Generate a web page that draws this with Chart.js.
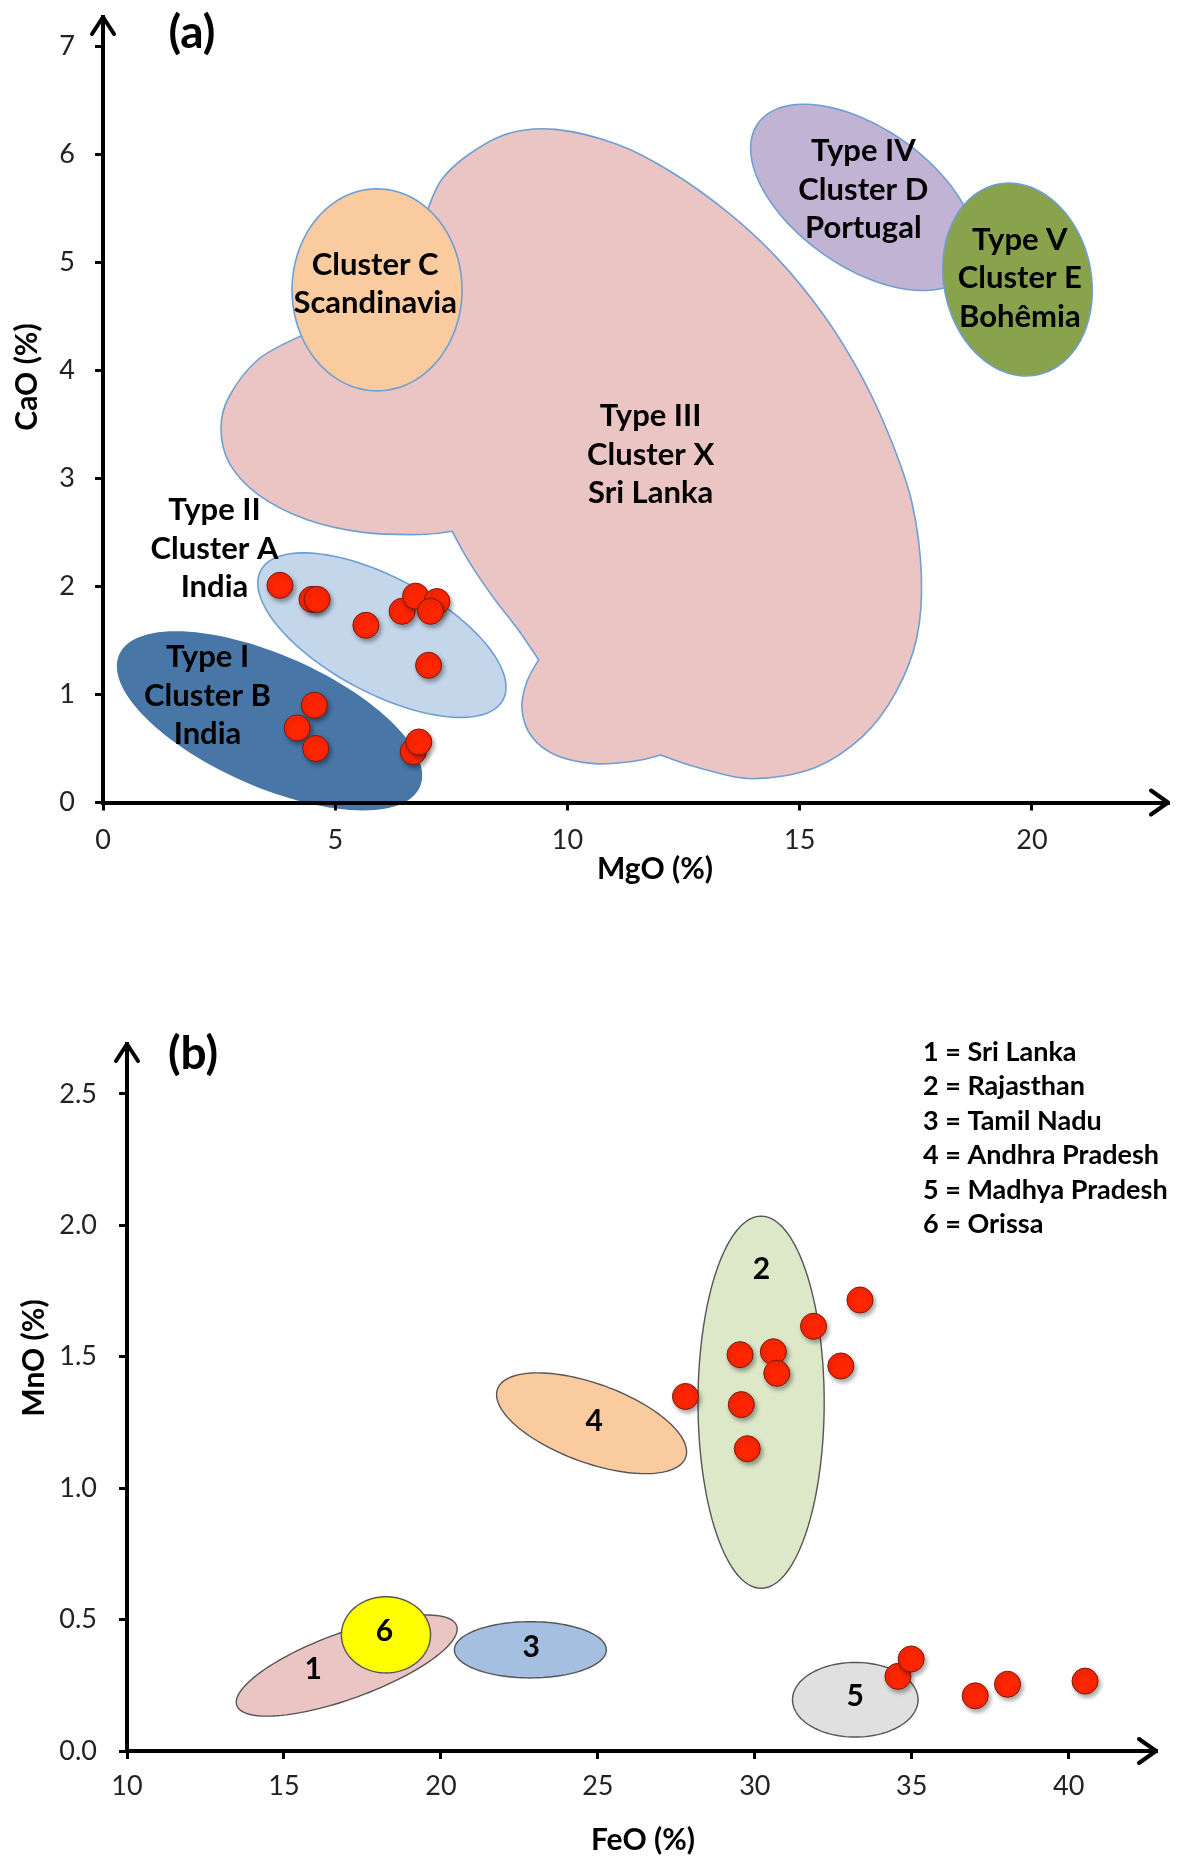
<!DOCTYPE html>
<html>
<head>
<meta charset="utf-8">
<script src="https://cdn.jsdelivr.net/npm/chart.js@4.4.0/dist/chart.umd.min.js"></script>
<style>
  html, body { margin: 0; padding: 0; background: #fff; }
  body { width: 1186px; height: 1865px; position: relative; overflow: hidden; }
  .panel { position: absolute; left: 0; width: 1186px; }
  #panelA { top: 0; height: 900px; }
  #panelB { top: 930px; height: 935px; }
</style>
</head>
<body>
<div class="panel" id="panelA"><canvas id="chartA"></canvas></div>
<div class="panel" id="panelB"><canvas id="chartB"></canvas></div>
<script>
// ---- (a) MgO vs CaO ----
const mgo = [3.81, 4.50, 4.61, 5.66, 6.44, 6.73, 7.19, 7.05, 7.01, 4.55, 4.18, 4.58, 6.68, 6.80];
const cao = [2.01, 1.88, 1.88, 1.64, 1.77, 1.91, 1.86, 1.77, 1.27, 0.90, 0.69, 0.50, 0.47, 0.56];
const mgoTicks = [0, 5, 10, 15, 20];
const caoTicks = [0, 1, 2, 3, 4, 5, 6, 7];

// ellipses: centre x, centre y, half-axis u (dx, dy), half-axis v (dx, dy) in data units
const clusterC = [5.90, 4.745, 1.83, 0, 0, 0.935];
const typeIV = [16.37, 5.60, 2.27, -0.684, -0.857, -0.525];
const typeV = [19.69, 4.84, -0.435, 0.881, 1.55, 0.142];
const typeI = [3.585, 0.756, 3.187, -0.638, -0.732, -0.518];
const typeII = [6.005, 1.549, 2.566, -0.627, -0.746, -0.432];

// Type III outline (Sri Lanka cloud)
const cloudX = [9.74, 8.71, 7.88, 7.30, 7.01, 6.80, 6.00, 4.60, 4.27, 3.34, 2.72, 2.54, 2.72, 3.34, 4.38, 5.61, 6.85,
  7.52, 7.88, 8.40, 8.92, 9.38, 9.12, 9.02, 9.23, 9.74, 10.57, 11.39, 12.01, 12.84, 13.97, 15.31,
  16.35, 17.07, 17.52, 17.62, 17.42, 16.97, 16.35, 15.52, 14.49, 13.46, 12.22, 11.08];
const cloudY = [6.23, 6.19, 6.00, 5.77, 5.51, 5.25, 4.60, 4.35, 4.32, 4.10, 3.76, 3.47, 3.14, 2.85, 2.62, 2.50, 2.48,
  2.51, 2.23, 1.90, 1.61, 1.32, 1.11, 0.86, 0.61, 0.44, 0.36, 0.38, 0.44, 0.32, 0.22, 0.32,
  0.61, 1.02, 1.52, 2.10, 2.77, 3.35, 3.93, 4.51, 5.05, 5.46, 5.84, 6.09];
const cloudCorners = [17, 21, 28];

const labelsA = ['Type III\nCluster X\nSri Lanka', 'Cluster C\nScandinavia', 'Type IV\nCluster D\nPortugal',
  'Type V\nCluster E\nBohêmia', 'Type II\nCluster A\nIndia', 'Type I\nCluster B\nIndia'];
const labelXA = [11.79, 5.86, 16.37, 19.74, 2.40, 2.25];
const labelYA = [3.22, 4.80, 5.67, 4.85, 2.35, 0.99];

// ---- (b) FeO vs MnO ----
const feo = [27.79, 29.53, 29.57, 29.76, 30.59, 30.70, 31.87, 32.74, 33.35, 34.56, 34.98, 37.02, 38.05, 40.52];
const mno = [1.349, 1.508, 1.318, 1.150, 1.519, 1.437, 1.616, 1.465, 1.716, 0.284, 0.350, 0.210, 0.254, 0.266];
const feoTicks = [10, 15, 20, 25, 30, 35, 40];
const mnoTicks = [0, 0.5, 1.0, 1.5, 2.0, 2.5];

const sriLanka = [17.0, 0.325, 3.50, 0.152, 0.36, -0.118];
const orissa = [18.25, 0.442, 1.42, 0, 0, 0.145];
const tamilNadu = [22.85, 0.385, 2.42, 0, 0, 0.107];
const andhra = [24.8, 1.247, 2.996, -0.130, -0.429, -0.141];
const rajasthan = [30.20, 1.327, 2.01, 0, 0, 0.708];
const madhya = [33.2, 0.195, 2.0, 0, 0, 0.142];

const labelsB = ['1', '6', '3', '4', '2', '5'];
const labelXB = [15.93, 18.20, 22.88, 24.88, 30.21, 33.2];
const labelYB = [0.311, 0.456, 0.393, 1.254, 1.832, 0.208];
const legendB = ['1 = Sri Lanka', '2 = Rajasthan', '3 = Tamil Nadu', '4 = Andhra Pradesh', '5 = Madhya Pradesh', '6 = Orissa'];

const FONT = 'Lato, "Open Sans", sans-serif';
Chart.defaults.font.family = FONT;

function px(chart, x, y) {
  return { x: chart.scales.x.getPixelForValue(x), y: chart.scales.y.getPixelForValue(y) };
}

function ellipsePath(chart, e) {
  const ctx = chart.ctx;
  ctx.beginPath();
  for (let i = 0; i <= 120; i++) {
    const t = i / 120 * Math.PI * 2;
    const p = px(chart, e[0] + e[2] * Math.cos(t) + e[4] * Math.sin(t), e[1] + e[3] * Math.cos(t) + e[5] * Math.sin(t));
    i ? ctx.lineTo(p.x, p.y) : ctx.moveTo(p.x, p.y);
  }
  ctx.closePath();
}

// closed catmull-rom through the outline points, sharp at the notches
function cloudPath(chart, xs, ys, corners) {
  const ctx = chart.ctx;
  const pts = xs.map((x, i) => px(chart, x, ys[i]));
  const n = pts.length;
  ctx.beginPath();
  ctx.moveTo(pts[0].x, pts[0].y);
  for (let i = 0; i < n; i++) {
    const p0 = pts[(i - 1 + n) % n], p1 = pts[i], p2 = pts[(i + 1) % n], p3 = pts[(i + 2) % n];
    const k1 = corners.includes(i) ? 0 : 1 / 6;
    const k2 = corners.includes((i + 1) % n) ? 0 : 1 / 6;
    ctx.bezierCurveTo(p1.x + (p2.x - p0.x) * k1, p1.y + (p2.y - p0.y) * k1,
      p2.x - (p3.x - p1.x) * k2, p2.y - (p3.y - p1.y) * k2, p2.x, p2.y);
  }
  ctx.closePath();
}

function makeShapes(regions, labels, lx, ly, font, lineH, lineW) {
  return {
    id: 'shapes',
    beforeDatasetsDraw(chart) {
      const ctx = chart.ctx;
      ctx.save();
      ctx.lineWidth = lineW;
      regions.forEach(r => {
        if (r.cloud) cloudPath(chart, r.cloud[0], r.cloud[1], r.corners);
        else ellipsePath(chart, r.e);
        ctx.fillStyle = r.fill;
        ctx.fill();
        ctx.strokeStyle = r.stroke;
        ctx.stroke();
      });
      ctx.fillStyle = '#000';
      ctx.font = font;
      ctx.textAlign = 'center';
      ctx.textBaseline = 'middle';
      labels.forEach((t, i) => {
        const p = px(chart, lx[i], ly[i]);
        const lines = t.split('\n');
        lines.forEach((s, j) => ctx.fillText(s, p.x, p.y + (j - (lines.length - 1) / 2) * lineH));
      });
      ctx.restore();
    }
  };
}

function makeFrame(cfg) {
  return {
    id: 'frame',
    afterDraw(chart) {
      const { ctx, chartArea: a } = chart;
      ctx.save();
      ctx.strokeStyle = '#000';
      ctx.lineWidth = 4;
      ctx.lineCap = 'round';
      ctx.lineJoin = 'round';
      ctx.beginPath();
      ctx.moveTo(a.right - 17, a.bottom - 12);
      ctx.lineTo(a.right, a.bottom);
      ctx.lineTo(a.right - 17, a.bottom + 12);
      ctx.stroke();
      ctx.beginPath();
      ctx.moveTo(a.left - 11, a.top + 17);
      ctx.lineTo(a.left, a.top);
      ctx.lineTo(a.left + 11, a.top + 17);
      ctx.stroke();

      ctx.fillStyle = '#000';
      ctx.textAlign = 'center';
      ctx.textBaseline = 'middle';
      ctx.font = 'bold 30px ' + FONT;
      ctx.fillText(cfg.xTitle, cfg.xTitlePos[0], cfg.xTitlePos[1]);
      ctx.save();
      ctx.translate(cfg.yTitlePos[0], cfg.yTitlePos[1]);
      ctx.rotate(-Math.PI / 2);
      ctx.fillText(cfg.yTitle, 0, 0);
      ctx.restore();
      ctx.font = 'bold 46px ' + FONT;
      ctx.fillText(cfg.tag, cfg.tagPos[0], cfg.tagPos[1]);
      if (cfg.legend) {
        ctx.textAlign = 'left';
        ctx.font = 'bold 27px ' + FONT;
        cfg.legend.forEach((s, i) => ctx.fillText(s, cfg.legendPos[0], cfg.legendPos[1] + i * 34.5));
      }
      ctx.restore();
    }
  };
}

const shadow = {
  id: 'shadow',
  beforeDatasetDraw(chart) {
    const c = chart.ctx;
    c.save();
    c.shadowColor = 'rgba(0,0,0,0.35)';
    c.shadowBlur = 4;
    c.shadowOffsetX = 2;
    c.shadowOffsetY = 3;
  },
  afterDatasetDraw(chart) { chart.ctx.restore(); }
};

function axis(min, max, ticks, pad, size, fmt) {
  return {
    type: 'linear', min: min, max: max,
    afterBuildTicks: s => { s.ticks = ticks.map(v => ({ value: v })); },
    afterFit: s => {
      if (s.isHorizontal()) s.height = size; else s.width = size;
      s.paddingTop = s.paddingBottom = s.paddingLeft = s.paddingRight = 0;
    },
    border: { display: true, color: '#000', width: 4, z: 1 },
    grid: { drawOnChartArea: false, drawTicks: true, tickLength: 8, color: '#000', lineWidth: 3, z: 1 },
    ticks: { padding: pad, color: '#222', font: { size: 27 }, callback: fmt || (v => v) }
  };
}

function pointSet(xs, ys) {
  return {
    type: 'scatter',
    data: xs.map((x, i) => ({ x: x, y: ys[i] })),
    pointRadius: 13,
    pointBackgroundColor: '#FF2500',
    pointBorderColor: '#7A1A08',
    pointBorderWidth: 1,
    clip: false
  };
}

new Chart(document.getElementById('chartA'), {
  type: 'scatter',
  data: { datasets: [pointSet(mgo, cao)] },
  options: {
    responsive: true, maintainAspectRatio: false, animation: false,
    layout: { padding: { top: 17, right: 18, left: 0, bottom: 0 } },
    plugins: { legend: { display: false }, tooltip: { enabled: false } },
    scales: {
      x: axis(0, 22.93, mgoTicks, 14, 97.5),
      y: axis(0, 7.27, caoTicks, 20, 103)
    }
  },
  plugins: [
    makeShapes([
      { cloud: [cloudX, cloudY], corners: cloudCorners, fill: '#EBC5C3', stroke: '#6E9FD4' },
      { e: clusterC, fill: '#FACB9F', stroke: '#6E9FD4' },
      { e: typeIV, fill: '#C0B3D4', stroke: '#6E9FD4' },
      { e: typeV, fill: '#88A34B', stroke: '#6E9FD4' },
      { e: typeI, fill: '#4876A7', stroke: '#4876A7' },
      { e: typeII, fill: '#C3D6EA', stroke: '#6E9FD4' }
    ], labelsA, labelXA, labelYA, 'bold 31px ' + FONT, 38.5, 1.6),
    makeFrame({ xTitle: 'MgO (%)', xTitlePos: [655, 869], yTitle: 'CaO (%)', yTitlePos: [27, 377], tag: '(a)', tagPos: [192, 33] }),
    shadow
  ]
});

new Chart(document.getElementById('chartB'), {
  type: 'scatter',
  data: { datasets: [pointSet(feo, mno)] },
  options: {
    responsive: true, maintainAspectRatio: false, animation: false,
    layout: { padding: { top: 114, right: 30, left: 0, bottom: 0 } },
    plugins: { legend: { display: false }, tooltip: { enabled: false } },
    scales: {
      x: axis(10, 42.78, feoTicks, 11, 114),
      y: axis(0, 2.69, mnoTicks, 22, 127, v => Number(v).toFixed(1))
    }
  },
  plugins: [
    makeShapes([
      { e: sriLanka, fill: '#EBC5C3', stroke: '#555' },
      { e: orissa, fill: '#FFFF00', stroke: '#555' },
      { e: tamilNadu, fill: '#A4BFDF', stroke: '#555' },
      { e: andhra, fill: '#FBCBA0', stroke: '#555' },
      { e: rajasthan, fill: '#DDE8C9', stroke: '#555' },
      { e: madhya, fill: '#E0E0E0', stroke: '#555' }
    ], labelsB, labelXB, labelYB, 'bold 30px ' + FONT, 30, 1.4),
    makeFrame({ xTitle: 'FeO (%)', xTitlePos: [643, 910], yTitle: 'MnO (%)', yTitlePos: [34, 428], tag: '(b)', tagPos: [193, 124],
      legend: legendB, legendPos: [923, 122] }),
    shadow
  ]
});
</script>
</body>
</html>
